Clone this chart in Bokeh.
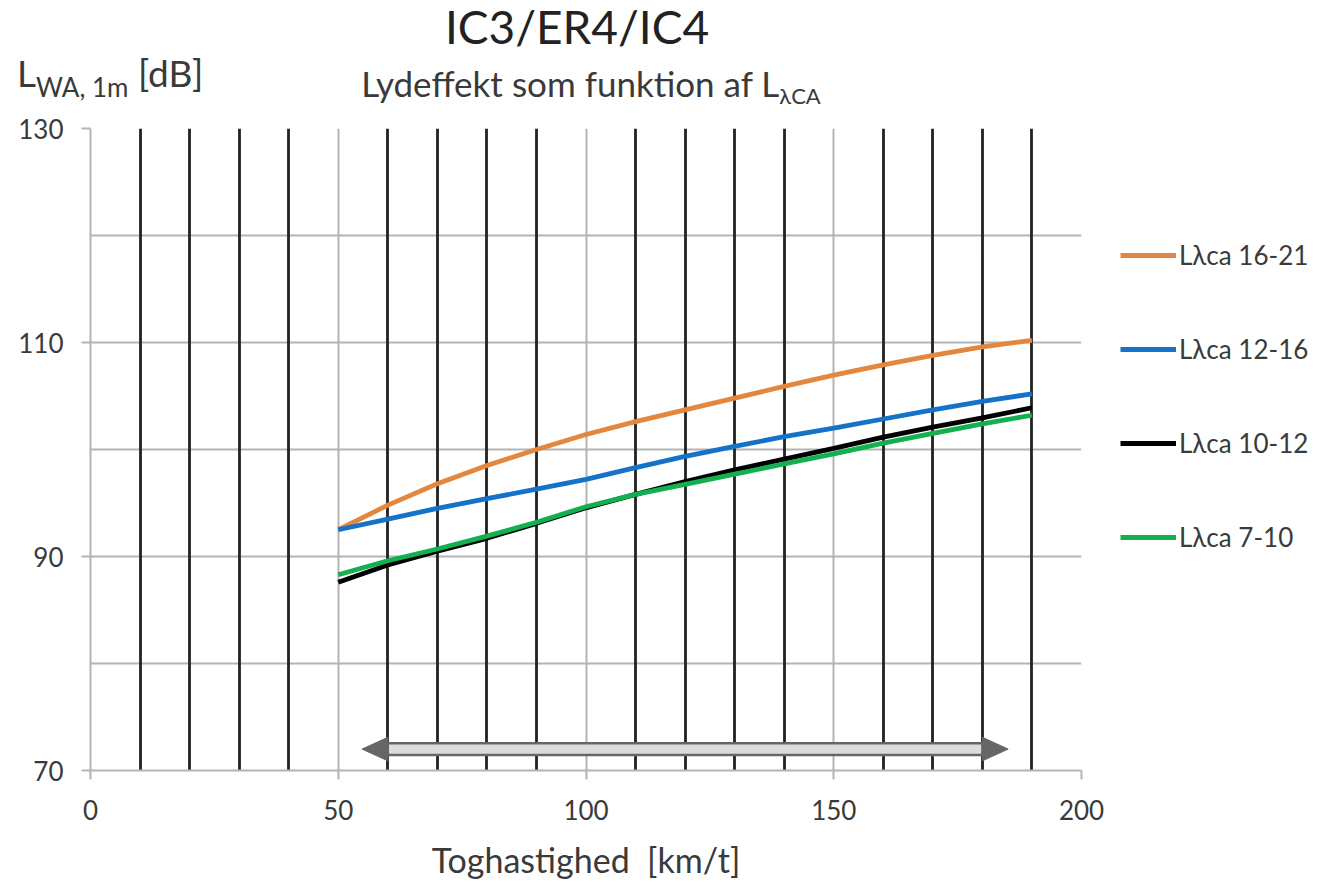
from bokeh.plotting import figure
from bokeh.models import (Legend, LegendItem, FixedTicker, Grid, Range1d, Div)
from bokeh.layouts import column, row
from bokeh.embed import file_html
from bokeh.resources import INLINE

# ---------------- data ----------------
speed = [50, 60, 70, 80, 90, 100, 110, 120, 130, 140, 150, 160, 170, 180, 190]
lca_16_21 = [92.5, 94.8, 96.8, 98.5, 100.0, 101.4, 102.6, 103.7, 104.8, 105.9, 106.95, 107.9, 108.8, 109.6, 110.2]
lca_12_16 = [92.5, 93.5, 94.5, 95.4, 96.3, 97.2, 98.3, 99.35, 100.3, 101.2, 102.0, 102.85, 103.7, 104.5, 105.2]
lca_10_12 = [87.6, 89.2, 90.5, 91.7, 93.1, 94.55, 95.8, 97.0, 98.1, 99.1, 100.1, 101.15, 102.1, 102.95, 103.9]
lca_7_10 = [88.3, 89.6, 90.7, 91.9, 93.2, 94.65, 95.8, 96.75, 97.7, 98.65, 99.6, 100.6, 101.5, 102.4, 103.2]
series = [lca_16_21, lca_12_16, lca_10_12, lca_7_10]
series_names = ["L\u03bbca 16-21", "L\u03bbca 12-16", "L\u03bbca 10-12", "L\u03bbca 7-10"]
series_colors = ["#E4873E", "#1472C8", "#000000", "#12B04E"]

x_ticks = [0, 50, 100, 150, 200]
y_ticks = [70, 90, 110, 130]
y_grid = [70, 80, 90, 100, 110, 120, 130]
x_minor = [10, 20, 30, 40, 60, 70, 80, 90, 110, 120, 130, 140, 160, 170, 180, 190]

# speed range indicated by the double arrow
arrow_from, arrow_to = 60, 180
arrow_level = 72.0

FONT = "Lato"
TXT = "#3a3a3a"
HEAD_H = 108
PLOT_H = 776
FRAME_H = 642
P1_W = 1111
P2_W = 204
W = P1_W + P2_W

header = Div(width=W, height=HEAD_H, margin=0, text=f"""
<div style="position:relative;width:{W}px;height:{HEAD_H}px;font-family:Lato;color:{TXT};">
  <span style="position:absolute;left:577px;top:4px;transform:translateX(-50%);font-size:46px;line-height:1;white-space:nowrap;color:#222;">IC3/ER4/IC4</span>
  <span style="position:absolute;left:591px;top:66px;transform:translateX(-50%);font-size:35px;line-height:1;white-space:nowrap;">Lydeffekt som funktion af L<span style="font-size:22px;position:relative;top:7px;">\u03bbCA</span></span>
  <span style="position:absolute;left:17px;top:54px;font-size:37px;line-height:1;white-space:nowrap;">L<span style="font-size:26px;position:relative;top:10px;">WA, 1m</span> [dB]</span>
</div>
""")

p = figure(width=P1_W, height=PLOT_H, x_range=Range1d(0, 200), y_range=Range1d(70, 130),
           output_backend="svg", toolbar_location=None, margin=0,
           min_border_left=90, min_border_right=P1_W - 1081, min_border_top=20,
           min_border_bottom=PLOT_H - 20 - FRAME_H)
p.outline_line_color = None
p.background_fill_color = "white"

# grids
p.xgrid.ticker = FixedTicker(ticks=x_ticks)
p.xgrid.grid_line_color = "#b4b4b4"
p.xgrid.grid_line_width = 2
p.ygrid.ticker = FixedTicker(ticks=y_grid)
p.ygrid.grid_line_color = "#b4b4b4"
p.ygrid.grid_line_width = 2
p.add_layout(Grid(dimension=0, ticker=FixedTicker(ticks=x_minor), grid_line_color="#222222",
                  grid_line_width=2.8))

# axes
for ax in (p.xaxis[0], p.yaxis[0]):
    ax.axis_line_color = "#b4b4b4"
    ax.axis_line_width = 2
    ax.major_tick_line_color = "#b4b4b4"
    ax.major_tick_line_width = 2
    ax.major_tick_out = 9
    ax.major_tick_in = 0
    ax.minor_tick_line_color = None
    ax.major_label_text_font = FONT
    ax.major_label_text_font_size = "26px"
    ax.major_label_text_color = TXT
p.xaxis.ticker = FixedTicker(ticks=x_ticks)
p.yaxis.ticker = FixedTicker(ticks=y_ticks)
p.xaxis.major_label_standoff = 20
p.yaxis.major_label_standoff = 18
p.xaxis.axis_label = "Toghastighed\u00a0 [km/t]"
p.xaxis.axis_label_text_font = FONT
p.xaxis.axis_label_text_font_size = "34px"
p.xaxis.axis_label_text_font_style = "normal"
p.xaxis.axis_label_text_color = TXT
p.xaxis.axis_label_standoff = 16

# arrow (double-headed)
ah = 1.1
p.quad(left=[arrow_from], right=[arrow_to], bottom=[arrow_level - 0.55], top=[arrow_level + 0.55],
       fill_color="#dcdcdc", line_color="#666666", line_width=2.5)
p.patch([arrow_from, arrow_from - 5.2, arrow_from], [arrow_level + ah, arrow_level, arrow_level - ah],
        fill_color="#666666", line_color="#666666")
p.patch([arrow_to, arrow_to + 5.2, arrow_to], [arrow_level + ah, arrow_level, arrow_level - ah],
        fill_color="#666666", line_color="#666666")

# series
for ys, c in zip(series, series_colors):
    p.line(speed, ys, line_color=c, line_width=4.8)

# legend panel: separate figure to the right; its proxy lines lie outside its (empty) view
p2 = figure(width=P2_W, height=PLOT_H, output_backend="svg", toolbar_location=None,
            x_axis_type=None, y_axis_type=None, min_border=0, margin=0,
            x_range=Range1d(0, 200), y_range=Range1d(0, 1))
p2.outline_line_color = None
p2.grid.visible = False
proxies = [p2.line(speed, ys, line_color=c, line_width=4.8) for ys, c in zip(series, series_colors)]
legend = Legend(items=[LegendItem(label=n, renderers=[r]) for n, r in zip(series_names, proxies)],
                location=(9, 211 + (PLOT_H - 770)), orientation="vertical")
legend.border_line_color = None
legend.background_fill_alpha = 0
legend.padding = 0
legend.margin = 0
legend.spacing = 62
legend.glyph_width = 56
legend.glyph_height = 24
legend.label_height = 24
legend.label_standoff = 3
legend.label_text_font = FONT
legend.label_text_font_size = "26px"
legend.label_text_color = TXT
p2.add_layout(legend)

layout = column(header, row(p, p2, spacing=0, margin=0), spacing=0, margin=0)
open("out.html", "w").write(file_html(layout, INLINE))
